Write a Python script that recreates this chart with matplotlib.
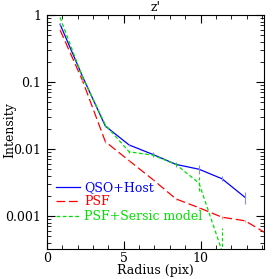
import matplotlib
matplotlib.use("Agg")
import matplotlib.pyplot as plt
from matplotlib.ticker import LogLocator, MultipleLocator, FixedLocator, FixedFormatter
import numpy as np

# radial profile
radius = [0.85, 2.3, 3.8, 5.35, 6.9, 8.4, 9.9, 11.4, 12.9, 14.4]

qso_r   = radius[:9]
qso     = [0.73, 0.123, 0.022, 0.0115, 0.0083, 0.0059, 0.0050, 0.0036, 0.0019]
qso_err = [0.02, 0.004, 0.0008, 0.0005, 0.0008, 0.0005, 0.0007, 0.0003, 0.0004]

psf_r   = radius
psf     = [0.60, 0.107, 0.0129, 0.0067, 0.0035, 0.0018, 0.00133, 0.00096, 0.00085, 0.00053]
psf_err = [0.01, 0.003, 0.0004, 0.0002, 0.0001, 0.00005, 0.00004, 0.00005, 0.00003, 0.00002]

ser_r   = radius[:8]
ser     = [0.92, 0.12, 0.023, 0.0091, 0.0081, 0.0059, 0.0031, 0.0003]
ser_lo  = [0.90, 0.117, 0.022, 0.0088, 0.0079, 0.0057, 0.0024, 0.0002]
ser_hi  = [0.95, 0.123, 0.024, 0.0094, 0.0083, 0.0061, 0.0038, 0.00066]

plt.rcParams["font.family"] = "DejaVu Serif"

fig = plt.figure(figsize=(2.79, 2.79), dpi=100)
ax = fig.add_axes([0.1685, 0.1075, 0.7775, 0.8385])

ax.plot(qso_r, qso, color="#0000ff", lw=0.9, label="QSO+Host")
ax.errorbar(qso_r, qso, yerr=qso_err, fmt="none", ecolor="#8888ff", elinewidth=0.8)

ax.plot(psf_r, psf, color="#ff0000", lw=0.9, dashes=(7, 3), label="PSF")
ax.errorbar(psf_r, psf, yerr=psf_err, fmt="none", ecolor="#ff8888", elinewidth=0.8)

ax.plot(ser_r, ser, color="#00e000", lw=0.9, dashes=(3, 2), label="PSF+Sersic model")
ax.vlines(ser_r, ser_lo, ser_hi, color="#00e000", lw=0.8, linestyles=(0, (3, 2)))

ax.set_yscale("log")
ax.set_xlim(0, 14.13)
ax.set_ylim(0.000322, 1)

ax.xaxis.set_major_locator(MultipleLocator(5))
ax.xaxis.set_minor_locator(MultipleLocator(1))
ax.yaxis.set_major_locator(FixedLocator([0.001, 0.01, 0.1, 1]))
ax.yaxis.set_major_formatter(FixedFormatter(["0.001", "0.01", "0.1", "1"]))
ax.yaxis.set_minor_locator(LogLocator(base=10, subs=np.arange(2, 10)))
ax.yaxis.set_minor_formatter(plt.NullFormatter())
ax.tick_params(which="both", direction="in", top=True, right=True, labelsize=9)
ax.tick_params(axis="x", pad=2)
ax.tick_params(axis="y", pad=4)
ax.tick_params(which="major", length=6, width=0.8)
ax.tick_params(which="minor", length=3, width=0.6)
for s in ax.spines.values():
    s.set_linewidth(0.8)

ax.set_title("z'", fontsize=9, pad=3)
ax.set_xlabel("Radius (pix)", fontsize=9)
ax.set_ylabel("Intensity", fontsize=9)
ax.xaxis.set_label_coords(0.5, -0.062)
ax.yaxis.set_label_coords(-0.143, 0.51)

leg = ax.legend(loc="lower left", bbox_to_anchor=(0.02, 0.09), frameon=False,
                fontsize=9, handlelength=1.9, handletextpad=0.35,
                labelspacing=0.12, borderaxespad=0)
for txt, c in zip(leg.get_texts(), ["#0000ff", "#ff0000", "#00e000"]):
    txt.set_color(c)

fig.savefig("out.png", dpi=100)
